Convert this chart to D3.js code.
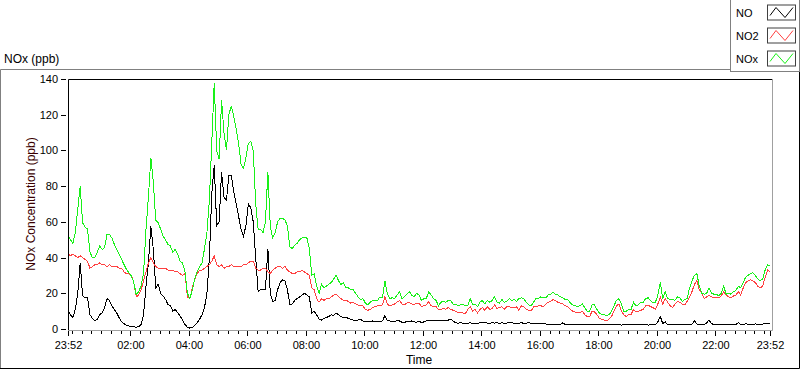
<!DOCTYPE html>
<html>
<head>
<meta charset="utf-8">
<script src="https://cdn.jsdelivr.net/npm/d3@7"></script>
<style>
  body { margin: 0; background: #fff; }
  svg { display: block; font-family: "Liberation Sans", Arial, sans-serif; }
</style>
</head>
<body>
<svg id="chart" width="800" height="369"></svg>
<script>
// readings every 5 minutes, starting 23:52
const START = new Date(2020, 0, 1, 23, 52);
const END = new Date(2020, 0, 2, 23, 52);
const STEP_MIN = 5;

const SERIES = ["NO", "NO2", "NOx"];

const NO = [
  10,8,6.5,11,20,37,18.5,17.5,17.5,8, 6,4.5,5.4,8,9,12,17,16,13,11,
  9,6.3,4,3,2,1.7,1.3,1.3,1,1.3, 2.6,8,24,37,57.6,44.6,23,25,20,18.5,
  16.6,13.8,13,10,11,9,7.3,
  5,2.5,1,0.5,0.8,2,3.5,5.5,8,12, 20,40,76,92,58,60,88,74,72,86,
  86,77,70,63,56,52,58,70,68,60, 40,21,22,22,22,45,20,15.5,16,22,
  26,27.5,27,22,14,14,16,17,18,19,
  20,19,18,9,10,8,5.5,5,6,6.5, 7,8,7.5,9,8,7,6.5,6.5,6,5.5,
  5,4.5,5,5.5,4.5,4,4,4.2,4.5,4.2, 4.2,4.2,4.5,7.5,4.5,4.5,4.3,4,5,4.5,
  3.8,3.5,4.5,4,4.5,4,3.8,4.5,
  3.5,4,4.5,5,5,5,5,4.5,4.5,4.5, 4.5,5,5.5,4.5,3.5,3.3,3.5,3.2,3.3,3.2,
  3.5,3.2,3.3,3.2,3.5,3.5,3.5,3.3,3.2,3.5, 3.3,3.5,3.2,3.5,3.2,3.3,3.5,3.5,3.3,3.2,
  3.3,3.5,3.2,3.3,3.5,3.2,3.3,3.2,3.2,
  3.2,3.3,2.8,2.5,2.5,2.6,2.4,2.5,2.4,3.5, 2.5,2.3,2.5,2.4,2.5,2.5,2.4,2.5,2.6,2.3,
  2.5,2.6,2.3,2.4,2.5,2.3,2.4,2.3,2.5,2.6, 2.4,2.3,2.4,2.2,2.3,2.4,2.5,2.3,2.4,2.3,
  2.4,2.5,2.3,2.4,2.2,2.3,2.4,2.4,
  4,7,3,4,2.5,2.3,2.4,2.5,2.3,2.4, 2.5,2.3,2.5,2.4,2.8,4.5,2.8,2.5,2.4,2.3,
  3.5,5,3,2.5,2.4,2.3,2.5,2.4,2.3,2.5, 2.4,2.3,2.5,3.5,2.6,2.5,3,2.5,2.6,2.5,
  2.8,2.7,2.6,2.8,2.9,3.2,3.3
];

const NO2 = [
  42,41,42,41,40,41,40,39,38,34, 35,36,36,37,36,36,35,36,35,35,
  35,34,34,32,31,31,30,26,18,19, 22,27,32,37,40,37,35,34,34,34,
  34,33,33,33,32,32,31,
  30,31,18,17,23,28,31,33,33,34, 35,36,38,41,36,35,36,34,35,35,
  36,35,35,35,35,36,36,37,38,38, 34,33,33,34,34,32,31,33,34,35,
  35,34,35,33,32,31,31,32,32,33,
  32,31,30,23,22,17,15,17,16,17, 17,18,19,19.5,18,17,16,16,15.5,14.5,
  15,14,13.5,13,13,11,10.5,11,12,12.5, 13,13,13.5,18,14,13,13.5,14,15,16,
  14,13.5,14.5,15,14,13.5,14.5,14.5,
  12.5,13,13.5,15.5,13,12.5,12.5,11,11,11.5, 11,12,11,10.5,10,9,9.5,9,8.5,11,
  12.5,10,11,9,11,12,10.5,12.5,11,11.5, 13.5,11.5,12,12.5,11,12.5,12.5,12,12,12.5,
  10.5,13,12.5,11,10.5,10,12.5,12.5,13,
  13,12.5,14,15,15.5,16.5,16,15,14.5,14, 13,12.5,11,10,9.5,9,9,10,8,7,
  7,10,9.5,8,6,5.5,5,4.5,5.5,7, 10,13,14,10,8,7,8,8,11,9.5,
  10,10.5,11,13,13.5,12.5,12,11,
  14,18,14,17,15,13,12,14,15.5,15, 14,13.5,15.5,18,21,25,27,22,20,17,
  18,19,18,17.5,17.5,17.5,18.5,21,19,18, 17.5,18.5,19,21,19,23,26,27,27.5,27,
  26,24,23,24,29,33,32
];

const NOX = [
  52,50,48,54,67,80,59.5,57,56,43, 40,40,43,46.5,44.6,45.5,53,53,51,47.4,
  44.6,42,39,36,33.4,31.5,29.7,26,19.2,21, 24,31.5,56,74,96,82,61,59.5,56,52,
  50,47.4,46.5,43,44.6,42,38,
  37,32,20,17,22,28,32,35,37,45, 54,72,105,138,100,95,128,110,100,120,
  125,119,112,104,92,90,96,104,105,100, 70,56,56,54,60,88,57,51,54,60,
  62,62,61,58,46,45,47,48,50,51,
  51,51,45,30,31,24,20,25,23,24, 25,26,28,30,27,25,26,23,23,22,
  22,20,18,16.5,17,14.5,13.5,15,16,16, 16,18,17.5,27,20,17,17.5,17,19,21,
  17,18,19.5,21,19,18,20,19,
  16,17,17,21,19,17,16,13,15,15.5, 15,16,16,14,14,13,13.5,14,13,13,
  17,14,14,12.5,15,16,14,16,15,16, 18,15,14.5,16.5,15,15.5,17,16,16.5,15.5,
  17,17.5,17,15,13.5,13,15,17,17,
  18,17.5,17.5,19,19.5,20.5,19.5,19,18,17.5, 16.5,16.5,14.7,13.5,13,12.5,13,14,12,10,
  10,13.5,13.5,11,9,8,8,7.5,8,10, 13,16,17,14,10,10,11,11,15,13,
  13.5,15,15,17,17.5,16,14.5,15,
  19,26,17,21,17,16.5,16.5,16,18,17.5, 15.5,16.5,17,23,27,30,31,24,20,19.5,
  20,23,20,19.5,19.5,18.5,20,24,19.5,20, 19.5,21,21.5,24,23,26,29,30,31,31.5,
  30,28,27,28,33,36,35.5
];

const X_TICK_LABELS = ["23:52", "02:00", "04:00", "06:00", "08:00", "10:00", "12:00",
  "14:00", "16:00", "18:00", "20:00", "22:00", "23:52"];
const Y_TICKS = [0, 20, 40, 60, 80, 100, 120, 140];

const colors = { NO: "#000000", NO2: "#ff4040", NOx: "#19f019" };
const values = { NO: NO, NO2: NO2, NOx: NOX };

const svg = d3.select("#chart");
const plotLeft = 68, plotRight = 772, plotTop = 79, plotBottom = 330;

const x = d3.scaleTime().domain([START, END]).range([plotLeft, 770]);
const y = d3.scaleLinear().domain([0, 140]).range([329, plotTop]);

const timeAt = i => d3.timeMinute.offset(START, i * STEP_MIN);

// outer panel frame
svg.append("rect").attr("width", 800).attr("height", 369).attr("fill", "#fff");
svg.append("path").attr("d", "M0.5,369V69.5H731").attr("fill", "none").attr("stroke", "#808080");
svg.append("path").attr("d", "M0,368.5H799.5V71").attr("fill", "none").attr("stroke", "#000");

// title
svg.append("text").attr("x", 4).attr("y", 63).attr("font-size", 12).text("NOx (ppb)");

// plot area
svg.append("rect").attr("x", plotLeft).attr("y", plotTop)
  .attr("width", plotRight - plotLeft).attr("height", plotBottom - plotTop)
  .attr("fill", "#fff");
svg.append("defs").append("clipPath").attr("id", "clip")
  .append("rect").attr("x", plotLeft + 1).attr("y", plotTop)
  .attr("width", plotRight - plotLeft - 1).attr("height", plotBottom - plotTop);

const line = d3.line()
  .x((d, i) => x(timeAt(i)))
  .y(d => y(d));

const plots = svg.append("g").attr("clip-path", "url(#clip)");
SERIES.forEach(s => {
  plots.append("path")
    .datum(values[s])
    .attr("d", line)
    .attr("fill", "none")
    .attr("stroke", colors[s])
    .attr("stroke-width", 1)
    .attr("shape-rendering", "crispEdges");
});

svg.append("path").attr("d", `M${plotLeft + 0.5},${plotBottom}V${plotTop + 0.5}H${plotRight}`)
  .attr("fill", "none").attr("stroke", "#000");
svg.append("path").attr("d", `M${plotLeft},${plotBottom + 0.5}H${plotRight + 0.5}V${plotTop}`)
  .attr("fill", "none").attr("stroke", "#a0a0a0");

// y axis
const yAxis = svg.append("g").attr("transform", "translate(66,0)")
  .call(d3.axisLeft(y).tickValues(Y_TICKS).tickSize(5).tickPadding(3));
yAxis.select(".domain").remove();
yAxis.selectAll("text").attr("font-size", 11).attr("font-family", null).attr("fill", "#000");

// x axis: minor ticks every 20 min, labelled major ticks
const majorTimes = X_TICK_LABELS.map((lab, i) => {
  if (i === 0) return START;
  if (i === X_TICK_LABELS.length - 1) return END;
  const [h, m] = lab.split(":").map(Number);
  return new Date(2020, 0, 2, h, m);
});
const minorTimes = d3.timeMinute.every(20).range(START, END);

const xMinor = svg.append("g").attr("transform", `translate(0,${plotBottom + 1})`)
  .call(d3.axisBottom(x).tickValues(minorTimes).tickSize(3).tickFormat(""));
xMinor.select(".domain").remove();

const xMajor = svg.append("g").attr("transform", `translate(0,${plotBottom + 1})`)
  .call(d3.axisBottom(x).tickValues(majorTimes).tickSize(5).tickPadding(5)
    .tickFormat((d, i) => X_TICK_LABELS[i]));
xMajor.select(".domain").remove();
xMajor.selectAll("text").attr("font-size", 11).attr("font-family", null).attr("fill", "#000");
svg.selectAll(".tick line").attr("shape-rendering", "crispEdges");

// axis titles
svg.append("text").attr("x", 419).attr("y", 364).attr("text-anchor", "middle")
  .attr("font-size", 12).text("Time");
svg.append("text").attr("transform", "translate(35,204) rotate(-90)").attr("text-anchor", "middle")
  .attr("font-size", 12).attr("fill", "#3a0000").text("NOx Concentration (ppb)");

// legend
const legend = svg.append("g");
legend.append("rect").attr("x", 730.5).attr("y", -0.5).attr("width", 69).attr("height", 72)
  .attr("fill", "#fff").attr("stroke", "#808080");
SERIES.forEach((s, i) => {
  const cy = 12.5 + i * 23;
  legend.append("text").attr("x", 736).attr("y", cy + 4).attr("font-size", 11).text(s);
  legend.append("rect").attr("x", 767.5).attr("y", cy - 7.5).attr("width", 28).attr("height", 15)
    .attr("fill", "#fff").attr("stroke", "#404040");
  legend.append("path")
    .attr("d", `M770,${cy + 3}L776,${cy - 5}L785,${cy + 5}L793,${cy - 5}`)
    .attr("fill", "none").attr("stroke", colors[s]);
});
</script>
</body>
</html>
